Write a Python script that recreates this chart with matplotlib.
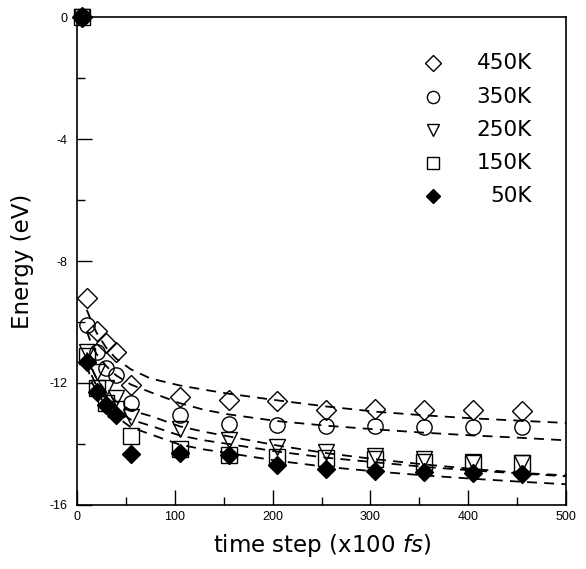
import matplotlib

matplotlib.use("Agg")
import matplotlib.pyplot as plt
from matplotlib.ticker import MultipleLocator

plt.rcParams["axes.unicode_minus"] = False

# measured points (time step x100 fs, energy eV)
time_steps = [5, 10, 20, 30, 40, 55, 105, 155, 205, 255, 305, 355, 405, 455]
e_450 = [0, -9.2, -10.3, -10.68, -11.0, -12.05, -12.46, -12.55, -12.58, -12.88, -12.86, -12.88, -12.9, -12.92]
e_350 = [0, -10.1, -11.0, -11.5, -11.75, -12.65, -13.05, -13.33, -13.38, -13.4, -13.42, -13.43, -13.43, -13.44]
e_250 = [0, -11.0, -11.65, -12.16, -12.5, -13.1, -13.52, -13.87, -14.1, -14.26, -14.4, -14.5, -14.58, -14.62]
e_150 = [0, -11.1, -12.15, -12.66, -12.85, -13.75, -14.15, -14.36, -14.43, -14.46, -14.48, -14.58, -14.62, -14.62]
e_50 = [0, -11.3, -12.3, -12.72, -13.05, -14.33, -14.3, -14.35, -14.7, -14.82, -14.88, -14.93, -14.95, -14.98]

# dashed fit curves
fit_x = [10, 15, 20, 30, 40, 55, 75, 105, 130, 155, 205, 255, 305, 355, 405, 455, 500]
fit_450 = [-9.6, -10.0, -10.35, -10.85, -11.2, -11.55, -11.85, -12.08, -12.22, -12.35, -12.57, -12.77, -12.94, -13.06, -13.16, -13.24, -13.31]
fit_350 = [-10.3, -10.75, -11.05, -11.45, -11.75, -12.05, -12.3, -12.66, -12.88, -13.03, -13.25, -13.4, -13.52, -13.63, -13.72, -13.8, -13.88]
fit_250 = [-11.0, -11.5, -11.85, -12.3, -12.6, -12.9, -13.08, -13.42, -13.6, -13.75, -14.05, -14.3, -14.5, -14.67, -14.82, -14.95, -15.03]
fit_150 = [-11.2, -11.75, -12.1, -12.55, -12.88, -13.2, -13.4, -13.72, -13.88, -14.0, -14.25, -14.45, -14.6, -14.75, -14.87, -14.97, -15.06]
fit_50 = [-11.4, -11.95, -12.3, -12.75, -13.1, -13.45, -13.68, -14.02, -14.18, -14.3, -14.55, -14.75, -14.9, -15.03, -15.14, -15.24, -15.32]

labels = ["450K", "350K", "250K", "150K", "50K"]

series = [
    (e_450, fit_450, dict(marker="D", ms=9.8, mfc="none")),
    (e_350, fit_350, dict(marker="o", ms=11, mfc="none")),
    (e_250, fit_250, dict(marker="v", ms=11, mfc="none")),
    (e_150, fit_150, dict(marker="s", ms=11, mfc="none")),
    (e_50, fit_50, dict(marker="D", ms=9.2, mfc="black")),
]

fig = plt.figure(figsize=(5.86, 5.69), dpi=100)
ax = fig.add_axes([0.1314, 0.1125, 0.8345, 0.8576])

for vals, fit, style in series:
    ax.plot(fit_x, fit, color="black", lw=1.3, dashes=(5.5, 4))
    ax.plot(time_steps, vals, ls="none", mec="black", mew=1.0, clip_on=False, **style)

# hand-placed legend with right-aligned labels
for i, (lab, (_, _, style)) in enumerate(zip(labels, series)):
    y = 0.905 - i * 0.068
    st = dict(style)
    st["ms"] = st["ms"] * 0.8
    ax.plot([0.728], [y], transform=ax.transAxes, ls="none", mec="black", mew=1.0, **st)
    ax.text(0.930, y, lab, transform=ax.transAxes, ha="right", va="center",
            fontsize=15.5, family="DejaVu Sans")

ax.set_xlim(0, 500)
ax.set_ylim(-16, 0)
ax.xaxis.set_major_locator(MultipleLocator(100))
ax.xaxis.set_minor_locator(MultipleLocator(50))
ax.yaxis.set_major_locator(MultipleLocator(4))
ax.yaxis.set_minor_locator(MultipleLocator(2))
ax.tick_params(which="both", direction="in", top=False, right=False, width=1.0)
ax.tick_params(which="major", length=11)
ax.tick_params(which="minor", length=6)
ax.tick_params(axis="x", pad=4)
ax.tick_params(axis="y", pad=7)
for lab in ax.get_xticklabels() + ax.get_yticklabels():
    lab.set_family(["Liberation Sans", "DejaVu Sans"])
    lab.set_fontsize(9)
for sp in ax.spines.values():
    sp.set_linewidth(1.2)

ax.set_xlabel("time step (x100 $\\it{fs}$)", fontsize=16.5, family="DejaVu Sans")
ax.xaxis.set_label_coords(0.5, -0.055)
ax.set_ylabel("Energy (eV)", fontsize=16.5, family="DejaVu Sans")
ax.yaxis.set_label_coords(-0.088, 0.5)

fig.savefig("out.png", dpi=100)
